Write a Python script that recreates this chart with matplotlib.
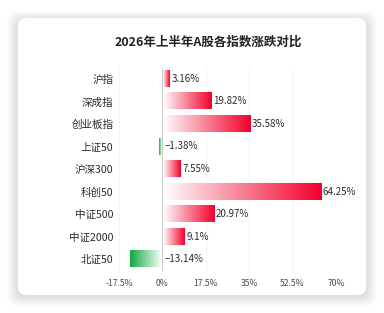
import matplotlib
matplotlib.use("Agg")
import matplotlib.pyplot as plt
import numpy as np
from matplotlib.colors import LinearSegmentedColormap
from matplotlib.patches import FancyBboxPatch

plt.rcParams['font.family'] = ['Noto Sans CJK SC', 'DejaVu Sans']

names = ["沪指", "深成指", "创业板指", "上证50", "沪深300", "科创50", "中证500", "中证2000", "北证50"]
changes = [3.16, 19.82, 35.58, -1.38, 7.55, 64.25, 20.97, 9.1, -13.14]
xticks = [-17.5, 0, 17.5, 35, 52.5, 70]
xtick_labels = ["-17.5%", "0%", "17.5%", "35%", "52.5%", "70%"]
title = "2026年上半年A股各指数涨跌对比"

red_cm = LinearSegmentedColormap.from_list("r", ["#ffffff", "#f2002b"])
green_cm = LinearSegmentedColormap.from_list("g", ["#0fa83e", "#ffffff"])

fig = plt.figure(figsize=(3.84, 3.13), dpi=100)
fig.patch.set_facecolor("white")

# card with soft shadow
for k in range(8, 0, -1):
    fig.patches.append(FancyBboxPatch((18 / 384, 16 / 313), 348 / 384, 277 / 313,
                                      boxstyle="round,pad=%f,rounding_size=0.03" % (k * 0.0035),
                                      transform=fig.transFigure, fc="#000000", ec="none",
                                      alpha=0.014, zorder=0))
fig.patches.append(FancyBboxPatch((18 / 384, 18 / 313), 348 / 384, 277 / 313,
                                  boxstyle="round,pad=0,rounding_size=0.025",
                                  transform=fig.transFigure, fc="white", ec="none", zorder=1))

ax = fig.add_axes([119 / 384, 1 - 270.5 / 313, 217 / 384, 203 / 313])
ax.set_facecolor("none")
ax.set_zorder(2)

h = 0.72
grad = np.linspace(0, 1, 256).reshape(1, -1)
for i, v in enumerate(changes):
    cm = red_cm if v >= 0 else green_cm
    ax.imshow(grad, cmap=cm, extent=[min(0, v) + (0.4 if v >= 0 else 0), max(0, v) - (0.4 if v < 0 else 0),
                                     i + h / 2, i - h / 2],
              aspect="auto", interpolation="bilinear", zorder=3)
    lx = max(v, 0) + 0.5 if v >= 0 else 0.9
    label = ("%g%%" % v) if v >= 0 else ("\u2013%g%%" % abs(v))
    ax.text(lx, i, label, va="center", ha="left", fontsize=7, color="#2a2a2a", zorder=4)

ax.set_xlim(-17.5, 70)
ax.set_ylim(len(names) - 0.5, -0.5)
ax.set_yticks(range(len(names)))
ax.set_yticklabels(names, fontsize=7.6, color="#2a2a2a")
ax.set_xticks(xticks)
ax.set_xticklabels(xtick_labels, fontsize=6.2, color="#4a4a4a")
ax.tick_params(axis="x", length=0, pad=6)
ax.tick_params(axis="y", length=0, pad=4)
for s in ax.spines.values():
    s.set_visible(False)
for t in xticks:
    ax.axvline(t, color="#cccccc" if t == 0 else "#f4f4f4", lw=0.8, zorder=1)

fig.text(0.542, 1 - 42 / 313, title, ha="center", va="center", fontsize=9,
         fontweight="bold", color="#222222", zorder=5)

fig.savefig("out.png", dpi=100)
